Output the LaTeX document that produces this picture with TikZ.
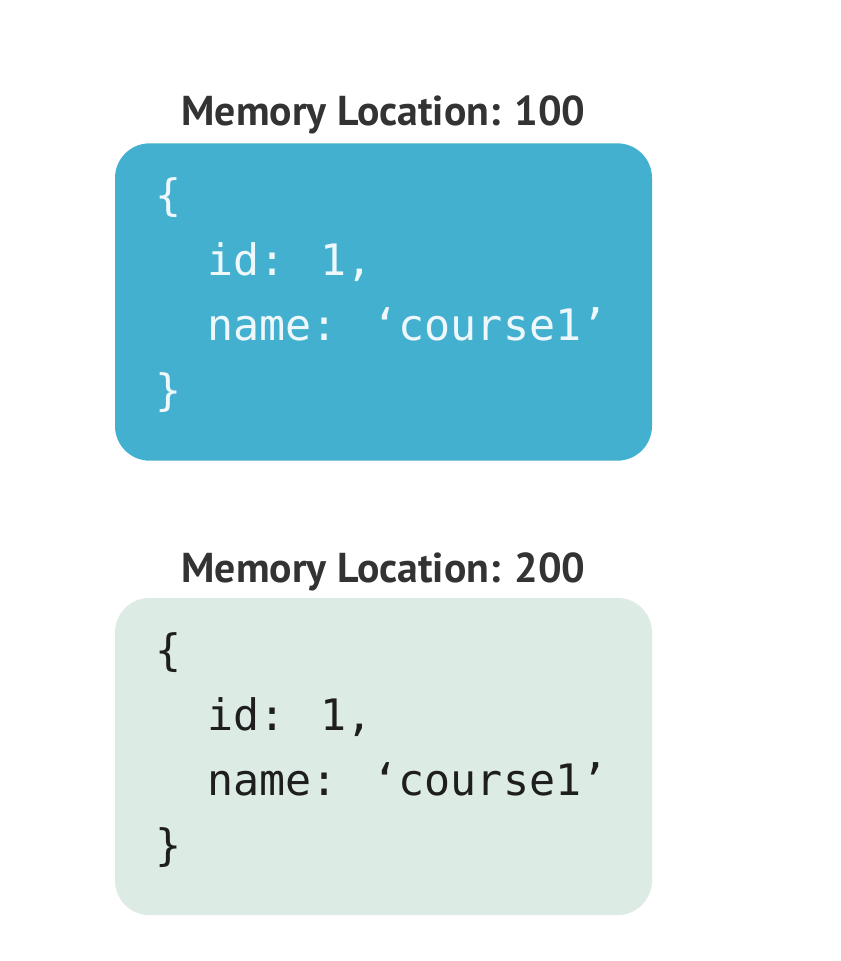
\documentclass[tikz,border=0pt]{standalone}
\usepackage{fontspec}
\setmainfont{PT Sans}
\newfontfamily\codefont{DejaVu Sans Mono}
\usetikzlibrary{positioning}

\definecolor{memblue}{HTML}{43B0D0}
\definecolor{memgrey}{HTML}{DDEBE5}
\definecolor{labelgrey}{HTML}{333333}
\definecolor{codewhite}{HTML}{EEF8FB}
\definecolor{codedark}{HTML}{1E1E1E}

\begin{document}
\begin{tikzpicture}[
	x=0.75pt, y=-0.75pt,
	membox/.style={rounded corners=26pt, minimum width=402.75pt, minimum height=238pt, inner sep=0pt},
	memlabel/.style={font=\bfseries\fontsize{31.3}{36}\selectfont, text=labelgrey, inner sep=0pt, anchor=base},
	code/.style={font=\codefont\fontsize{32.5}{48.75}\selectfont, align=left, inner sep=0pt, anchor=base west}
]
\useasboundingbox (0,0) rectangle (841,961);

% first object
\node[membox, fill=memblue] (box1) at (383.5,302) {};
\node[memlabel] (lab1) at (383.5,125) {Memory Location: 100};
\node[code, text=codewhite] (code1) at (155,405) {\{\\\phantom{xx}id: 1,\\\phantom{xx}name: ‘course1’\\\}};

% second object
\node[membox, fill=memgrey] (box2) at (383.5,756.5) {};
\node[memlabel] (lab2) at (383.5,582) {Memory Location: 200};
\node[code, text=codedark] (code2) at (155,860) {\{\\\phantom{xx}id: 1,\\\phantom{xx}name: ‘course1’\\\}};
\end{tikzpicture}
\end{document}
